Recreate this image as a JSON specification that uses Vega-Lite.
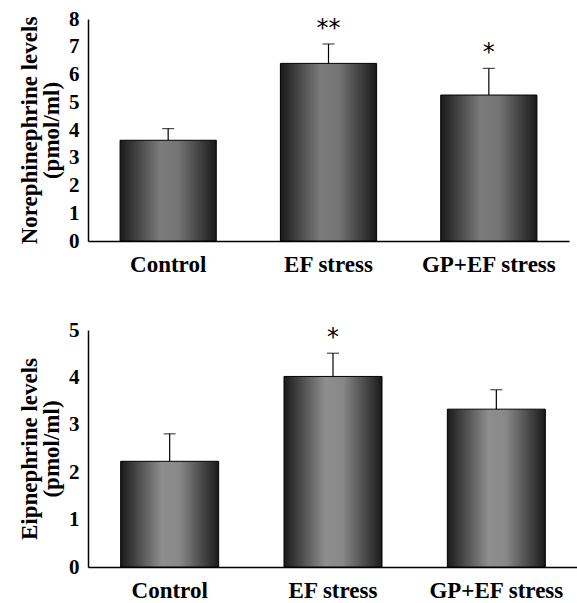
{
  "$schema": "https://vega.github.io/schema/vega-lite/v6.json",
  "padding": {"left": 18, "top": 8, "right": 2, "bottom": 5},
  "background": "white",
  "spacing": 43,
  "config": {
    "view": {"stroke": null},
    "font": "Liberation Serif",
    "axis": {
      "domainColor": "black",
      "domainWidth": 1.5,
      "ticks": false,
      "grid": false,
      "labelFont": "Liberation Serif",
      "labelFontWeight": "bold",
      "labelFontSize": 21,
      "labelColor": "black",
      "titleFont": "Liberation Serif",
      "titleFontWeight": "bold",
      "titleFontSize": 23,
      "titleLineHeight": 22,
      "titleColor": "black"
    },
    "axisY": {"labelOverlap": false, "labelBound": false},
    "axisQuantitative": {"labelOverlap": false},
    "axisX": {"labelFontSize": 23}
  },
  "vconcat": [
    {
      "width": 481,
      "height": 222,
      "data": {"values": [
        {"group": "Control", "mean": 3.63, "upper": 4.05, "sig": ""},
        {"group": "EF stress", "mean": 6.40, "upper": 7.10, "sig": "**"},
        {"group": "GP+EF stress", "mean": 5.26, "upper": 6.22, "sig": "*"}
      ]},
      "encoding": {
        "x": {"field": "group", "type": "nominal", "sort": null,
              "scale": {"paddingInner": 0.4, "paddingOuter": 0.2},
              "axis": {"title": null, "labelAngle": 0, "labelPadding": 12}}
      },
      "layer": [
        {
          "mark": {"type": "bar", "stroke": "black", "strokeWidth": 1,
                   "fill": {"gradient": "linear", "x1": 0, "x2": 1, "y1": 0, "y2": 0,
                            "stops": [{"offset": 0, "color": "#1a1a1a"}, {"offset": 0.42, "color": "#7c7c7c"}, {"offset": 0.6, "color": "#757575"}, {"offset": 1, "color": "#1a1a1a"}]}},
          "encoding": {
            "y": {"field": "mean", "type": "quantitative",
                  "scale": {"domain": [0, 8], "nice": false},
                  "axis": {"values": [0,1,2,3,4,5,6,7,8], "tickCount": 9, "labelOverlap": false, "labelExpr": "format(datum.value, 'd')", "labelPadding": 9, "titlePadding": 5,
                           "title": ["Norephinephrine levels", "(pmol/ml)"]}}
          }
        },
        {
          "mark": {"type": "rule", "color": "black", "strokeWidth": 1.2},
          "encoding": {"y": {"field": "mean", "type": "quantitative"}, "y2": {"field": "upper"}}
        },
        {
          "mark": {"type": "tick", "color": "black", "size": 12, "thickness": 1.2},
          "encoding": {"y": {"field": "upper", "type": "quantitative"}}
        },
        {
          "mark": {"type": "text", "font": "DejaVu Sans", "fontSize": 24, "dy": -15, "baseline": "middle", "color": "black"},
          "encoding": {"y": {"field": "upper", "type": "quantitative"}, "text": {"field": "sig"}}
        }
      ]
    },
    {
      "width": 490,
      "height": 237,
      "data": {"values": [
        {"group": "Control", "mean": 2.23, "upper": 2.81, "sig": ""},
        {"group": "EF stress", "mean": 4.02, "upper": 4.51, "sig": "*"},
        {"group": "GP+EF stress", "mean": 3.33, "upper": 3.74, "sig": ""}
      ]},
      "encoding": {
        "x": {"field": "group", "type": "nominal", "sort": null,
              "scale": {"paddingInner": 0.4, "paddingOuter": 0.2},
              "axis": {"title": null, "labelAngle": 0, "labelPadding": 12}}
      },
      "layer": [
        {
          "mark": {"type": "bar", "stroke": "black", "strokeWidth": 1,
                   "fill": {"gradient": "linear", "x1": 0, "x2": 1, "y1": 0, "y2": 0,
                            "stops": [{"offset": 0, "color": "#1a1a1a"}, {"offset": 0.42, "color": "#8e8e8e"}, {"offset": 0.6, "color": "#888888"}, {"offset": 1, "color": "#1a1a1a"}]}},
          "encoding": {
            "y": {"field": "mean", "type": "quantitative",
                  "scale": {"domain": [0, 5], "nice": false},
                  "axis": {"values": [0,1,2,3,4,5], "labelOverlap": false, "labelPadding": 9, "titlePadding": 5,
                           "title": ["Eipnephrine levels", "(pmol/ml)"]}}
          }
        },
        {
          "mark": {"type": "rule", "color": "black", "strokeWidth": 1.2},
          "encoding": {"y": {"field": "mean", "type": "quantitative"}, "y2": {"field": "upper"}}
        },
        {
          "mark": {"type": "tick", "color": "black", "size": 12, "thickness": 1.2},
          "encoding": {"y": {"field": "upper", "type": "quantitative"}}
        },
        {
          "mark": {"type": "text", "font": "DejaVu Sans", "fontSize": 24, "dy": -15, "baseline": "middle", "color": "black"},
          "encoding": {"y": {"field": "upper", "type": "quantitative"}, "text": {"field": "sig"}}
        }
      ]
    }
  ]
}
